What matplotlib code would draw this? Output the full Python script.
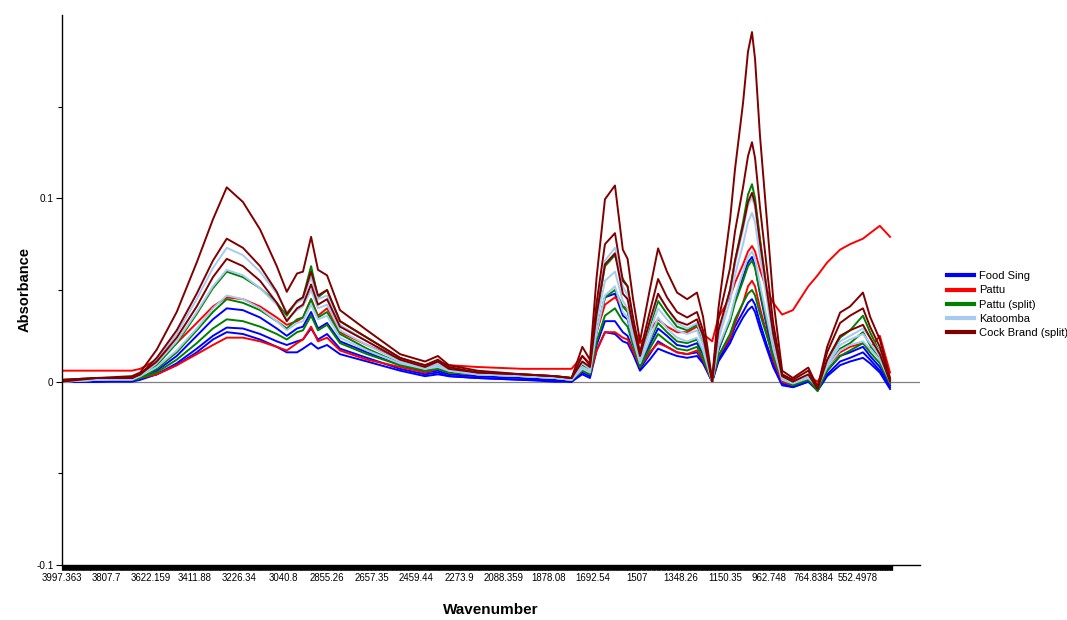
import numpy as np
import matplotlib
matplotlib.use("Agg")
import matplotlib.pyplot as plt
from matplotlib.lines import Line2D

plt.rcParams['font.family'] = ['Liberation Sans', 'DejaVu Sans']

# ---------------- data ----------------
TICK_WN = [3997.363, 3807.7, 3622.159, 3411.88, 3226.34, 3040.8, 2855.26, 2657.35,
           2459.44, 2273.9, 2088.359, 1878.08, 1692.54, 1507, 1348.26, 1150.35,
           962.748, 764.8384, 552.4978]
TICK_LABELS = ["3997.363", "3807.7", "3622.159", "3411.88", "3226.34", "3040.8",
               "2855.26", "2657.35", "2459.44", "2273.9", "2088.359", "1878.08",
               "1692.54", "1507", "1348.26", "1150.35", "962.748", "764.8384", "552.4978"]

WN = [3997, 3850, 3700, 3665, 3592, 3497, 3403, 3335, 3277, 3209, 3137,
      3067, 3025, 2982, 2957, 2923, 2894, 2856, 2798, 2677, 2529, 2420,
      2366, 2320, 2200, 2000, 1850, 1780, 1735, 1703, 1675, 1640, 1598,
      1565, 1545, 1522, 1495, 1460, 1430, 1398, 1362, 1320, 1276, 1249,
      1208, 1180, 1129, 1108, 1074, 1053, 1036, 1023, 1002, 973, 945,
      905, 857, 788, 745, 699, 637, 589, 527, 493, 446, 397]

FOOD_SING_1 = [0.000, 0.000, 0.001, 0.002, 0.006, 0.014, 0.025, 0.034, 0.040, 0.039, 0.035,
               0.029, 0.025, 0.029, 0.030, 0.038, 0.029, 0.032, 0.022, 0.016, 0.009, 0.005,
               0.006, 0.004, 0.003, 0.002, 0.001, 0.000, 0.007, 0.004, 0.027, 0.046, 0.048,
               0.036, 0.034, 0.022, 0.009, 0.020, 0.029, 0.025, 0.020, 0.019, 0.021, 0.015,
               0.000, 0.017, 0.034, 0.045, 0.057, 0.065, 0.068, 0.063, 0.048, 0.030, 0.014,
               0.000, -0.002, 0.001, -0.004, 0.006, 0.014, 0.016, 0.019, 0.014, 0.008, -0.002]
FOOD_SING_2 = [0.000, 0.000, 0.001, 0.002, 0.004, 0.010, 0.018, 0.025, 0.0295, 0.029, 0.026,
               0.022, 0.020, 0.022, 0.023, 0.029, 0.023, 0.026, 0.018, 0.013, 0.007, 0.004,
               0.005, 0.003, 0.002, 0.001, 0.001, 0.000, 0.005, 0.003, 0.020, 0.033, 0.033,
               0.027, 0.025, 0.017, 0.007, 0.015, 0.022, 0.019, 0.016, 0.015, 0.016, 0.011,
               0.000, 0.012, 0.023, 0.030, 0.038, 0.043, 0.045, 0.042, 0.032, 0.020, 0.010,
               -0.001, -0.003, 0.000, -0.004, 0.004, 0.011, 0.013, 0.016, 0.012, 0.006, -0.003]
FOOD_SING_3 = [0.000, 0.000, 0.000, 0.001, 0.004, 0.009, 0.016, 0.023, 0.027, 0.026, 0.023,
               0.019, 0.016, 0.016, 0.018, 0.021, 0.018, 0.020, 0.015, 0.011, 0.006, 0.003,
               0.004, 0.003, 0.002, 0.001, 0.000, 0.000, 0.004, 0.002, 0.017, 0.027, 0.026,
               0.022, 0.021, 0.015, 0.006, 0.012, 0.018, 0.016, 0.014, 0.013, 0.014, 0.010,
               0.000, 0.011, 0.021, 0.027, 0.035, 0.039, 0.041, 0.038, 0.029, 0.018, 0.008,
               -0.002, -0.003, 0.000, -0.005, 0.003, 0.009, 0.011, 0.013, 0.010, 0.005, -0.004]

PATTU_1 = [0.006, 0.006, 0.006, 0.007, 0.012, 0.021, 0.032, 0.041, 0.046, 0.045, 0.041,
           0.035, 0.031, 0.033, 0.035, 0.045, 0.036, 0.040, 0.027, 0.020, 0.012, 0.009,
           0.011, 0.009, 0.008, 0.007, 0.007, 0.007, 0.014, 0.010, 0.027, 0.042, 0.046,
           0.041, 0.040, 0.030, 0.021, 0.028, 0.034, 0.030, 0.027, 0.027, 0.030, 0.026,
           0.022, 0.035, 0.046, 0.054, 0.064, 0.071, 0.074, 0.071, 0.061, 0.050, 0.043,
           0.0366, 0.039, 0.052, 0.058, 0.065, 0.072, 0.075, 0.078, 0.081, 0.085, 0.079]
PATTU_2 = [0.000, 0.001, 0.001, 0.002, 0.004, 0.009, 0.015, 0.020, 0.024, 0.024, 0.022,
           0.019, 0.017, 0.021, 0.023, 0.030, 0.022, 0.024, 0.017, 0.012, 0.008, 0.005,
           0.007, 0.005, 0.004, 0.003, 0.002, 0.001, 0.006, 0.004, 0.017, 0.027, 0.027,
           0.024, 0.023, 0.017, 0.008, 0.016, 0.021, 0.019, 0.016, 0.015, 0.017, 0.012,
           0.000, 0.014, 0.024, 0.032, 0.043, 0.052, 0.055, 0.052, 0.040, 0.026, 0.012,
           0.000, -0.002, 0.003, 0.000, 0.008, 0.016, 0.019, 0.021, 0.018, 0.025, 0.005]

PATTU_SPLIT_1 = [0.000, 0.001, 0.001, 0.003, 0.009, 0.021, 0.037, 0.051, 0.060, 0.057, 0.051,
                 0.043, 0.036, 0.044, 0.046, 0.063, 0.046, 0.050, 0.033, 0.024, 0.013, 0.008,
                 0.010, 0.007, 0.005, 0.003, 0.002, 0.001, 0.009, 0.006, 0.036, 0.063, 0.069,
                 0.056, 0.052, 0.033, 0.013, 0.030, 0.044, 0.037, 0.030, 0.028, 0.031, 0.022,
                 0.000, 0.026, 0.050, 0.066, 0.087, 0.102, 0.1077, 0.100, 0.078, 0.050, 0.028,
                 0.004, 0.000, 0.003, -0.004, 0.011, 0.024, 0.028, 0.036, 0.027, 0.016, 0.001]
PATTU_SPLIT_2 = [0.000, 0.001, 0.001, 0.002, 0.007, 0.016, 0.028, 0.038, 0.045, 0.043, 0.039,
                 0.033, 0.029, 0.034, 0.035, 0.045, 0.035, 0.038, 0.026, 0.018, 0.010, 0.006,
                 0.008, 0.006, 0.004, 0.003, 0.002, 0.001, 0.007, 0.005, 0.028, 0.046, 0.050,
                 0.041, 0.038, 0.025, 0.010, 0.022, 0.032, 0.027, 0.022, 0.021, 0.023, 0.016,
                 0.000, 0.018, 0.033, 0.043, 0.055, 0.063, 0.066, 0.062, 0.049, 0.032, 0.018,
                 0.002, -0.001, 0.002, -0.005, 0.008, 0.018, 0.021, 0.027, 0.020, 0.012, 0.000]
PATTU_SPLIT_3 = [0.000, 0.001, 0.001, 0.002, 0.005, 0.012, 0.021, 0.029, 0.034, 0.033, 0.030,
                 0.026, 0.023, 0.027, 0.028, 0.036, 0.028, 0.031, 0.021, 0.015, 0.009, 0.006,
                 0.007, 0.005, 0.004, 0.003, 0.002, 0.001, 0.006, 0.004, 0.022, 0.036, 0.040,
                 0.033, 0.030, 0.020, 0.008, 0.018, 0.026, 0.022, 0.018, 0.017, 0.019, 0.013,
                 0.000, 0.014, 0.026, 0.034, 0.043, 0.048, 0.050, 0.047, 0.037, 0.025, 0.014,
                 0.001, -0.002, 0.001, -0.005, 0.006, 0.014, 0.017, 0.021, 0.016, 0.010, -0.001]

KATOOMBA_1 = [0.000, 0.001, 0.002, 0.004, 0.012, 0.026, 0.045, 0.062, 0.073, 0.069, 0.060,
              0.048, 0.038, 0.043, 0.045, 0.057, 0.045, 0.047, 0.031, 0.022, 0.012, 0.008,
              0.010, 0.007, 0.004, 0.003, 0.002, 0.001, 0.010, 0.007, 0.038, 0.066, 0.073,
              0.052, 0.047, 0.030, 0.013, 0.032, 0.047, 0.040, 0.032, 0.029, 0.032, 0.023,
              0.000, 0.026, 0.049, 0.064, 0.083, 0.096, 0.1005, 0.095, 0.075, 0.050, 0.025,
              0.002, 0.000, 0.003, -0.002, 0.010, 0.022, 0.025, 0.029, 0.024, 0.016, 0.002]
KATOOMBA_2 = [0.000, 0.001, 0.002, 0.003, 0.010, 0.022, 0.038, 0.052, 0.061, 0.058, 0.051,
              0.042, 0.034, 0.039, 0.041, 0.050, 0.040, 0.042, 0.028, 0.020, 0.011, 0.007,
              0.009, 0.006, 0.004, 0.003, 0.002, 0.001, 0.008, 0.006, 0.032, 0.055, 0.060,
              0.044, 0.040, 0.026, 0.012, 0.027, 0.040, 0.034, 0.028, 0.026, 0.028, 0.020,
              0.000, 0.023, 0.044, 0.058, 0.075, 0.087, 0.092, 0.087, 0.068, 0.045, 0.022,
              0.002, 0.000, 0.002, -0.002, 0.009, 0.020, 0.023, 0.026, 0.021, 0.014, 0.001]
KATOOMBA_3 = [0.000, 0.001, 0.001, 0.003, 0.008, 0.017, 0.029, 0.040, 0.047, 0.045, 0.040,
              0.033, 0.028, 0.032, 0.033, 0.042, 0.034, 0.036, 0.024, 0.017, 0.010, 0.007,
              0.008, 0.006, 0.004, 0.003, 0.002, 0.001, 0.007, 0.005, 0.027, 0.047, 0.052,
              0.038, 0.035, 0.023, 0.010, 0.023, 0.035, 0.029, 0.024, 0.022, 0.024, 0.017,
              0.000, 0.019, 0.035, 0.046, 0.060, 0.068, 0.071, 0.067, 0.053, 0.035, 0.018,
              0.001, -0.001, 0.002, -0.003, 0.008, 0.017, 0.020, 0.022, 0.018, 0.012, 0.000]

COCK_BRAND_1 = [0.001, 0.002, 0.003, 0.005, 0.0175, 0.038, 0.065, 0.0885, 0.106, 0.098, 0.083,
                0.063, 0.049, 0.059, 0.060, 0.079, 0.061, 0.058, 0.039, 0.028, 0.015, 0.011,
                0.014, 0.009, 0.006, 0.004, 0.003, 0.002, 0.019, 0.012, 0.057, 0.0995, 0.107,
                0.072, 0.067, 0.045, 0.022, 0.050, 0.0727, 0.060, 0.0486, 0.045, 0.0486, 0.0355,
                0.001, 0.040, 0.0885, 0.116, 0.152, 0.180, 0.1907, 0.176, 0.134, 0.0885, 0.045,
                0.006, 0.002, 0.0077, -0.003, 0.019, 0.0377, 0.041, 0.0486, 0.0355, 0.023, 0.002]
COCK_BRAND_2 = [0.001, 0.002, 0.002, 0.004, 0.013, 0.028, 0.048, 0.066, 0.078, 0.073, 0.063,
                0.049, 0.037, 0.044, 0.046, 0.060, 0.047, 0.050, 0.033, 0.024, 0.013, 0.009,
                0.012, 0.008, 0.005, 0.004, 0.003, 0.002, 0.014, 0.009, 0.043, 0.075, 0.081,
                0.055, 0.052, 0.035, 0.016, 0.038, 0.056, 0.046, 0.038, 0.035, 0.038, 0.028,
                0.001, 0.034, 0.062, 0.082, 0.106, 0.123, 0.1306, 0.122, 0.095, 0.062, 0.032,
                0.004, 0.001, 0.006, -0.003, 0.016, 0.032, 0.036, 0.040, 0.030, 0.019, 0.001]
COCK_BRAND_3 = [0.000, 0.002, 0.002, 0.004, 0.011, 0.024, 0.041, 0.057, 0.067, 0.063, 0.055,
                0.043, 0.033, 0.040, 0.042, 0.053, 0.042, 0.045, 0.030, 0.022, 0.012, 0.008,
                0.011, 0.007, 0.005, 0.004, 0.003, 0.002, 0.011, 0.008, 0.037, 0.064, 0.070,
                0.048, 0.045, 0.030, 0.014, 0.033, 0.048, 0.040, 0.033, 0.031, 0.034, 0.025,
                0.000, 0.028, 0.050, 0.066, 0.085, 0.098, 0.103, 0.097, 0.076, 0.050, 0.026,
                0.003, 0.000, 0.004, -0.004, 0.012, 0.025, 0.028, 0.031, 0.024, 0.015, 0.000]

SERIES_NAMES = ["Food Sing", "Pattu", "Pattu (split)", "Katoomba", "Cock Brand (split)"]
SERIES_COLORS = ["#0000FF", "#FF0000", "#008000", "#A6CAF0", "#800000"]
SERIES_LINES = [
    [FOOD_SING_1, FOOD_SING_2, FOOD_SING_3],
    [PATTU_1, PATTU_2],
    [PATTU_SPLIT_1, PATTU_SPLIT_2, PATTU_SPLIT_3],
    [KATOOMBA_1, KATOOMBA_2, KATOOMBA_3],
    [COCK_BRAND_1, COCK_BRAND_2, COCK_BRAND_3],
]

# ------------- axis scale: tick labels evenly spaced (variable index) -------------
tw = np.array(TICK_WN, float)
ext_wn = np.concatenate([[tw[0] + 2 * (tw[0] - tw[1])], tw, [tw[-1] - 3 * (tw[-2] - tw[-1])]])
ext_idx = np.concatenate([[-2.0], np.arange(len(tw), dtype=float), [len(tw) + 2.0]])
xp_inc = ext_wn[::-1]          # increasing wavenumbers
fp_inc = -ext_idx[::-1]        # increasing (negative index)


def fwd(w):
    w = np.asarray(w, float)
    return np.interp(w, xp_inc, fp_inc)


def inv(t):
    t = np.asarray(t, float)
    return np.interp(t, fp_inc, xp_inc)


X_RIGHT = 253.0

fig = plt.figure(figsize=(10.67, 6.2), dpi=100)
ax = fig.add_axes([62 / 1067, 55 / 620, 858 / 1067, 550 / 620])
ax.set_xscale('function', functions=(fwd, inv))

ax.axhline(0, color='#808080', lw=0.9, zorder=1)

for name, color, lines in zip(SERIES_NAMES, SERIES_COLORS, SERIES_LINES):
    for vals in lines:
        ax.plot(WN, vals, color=color, lw=1.4, zorder=2)

ax.set_xlim(tw[0], X_RIGHT)
ax.set_ylim(-0.1, 0.2)

ax.set_xticks(TICK_WN, labels=TICK_LABELS)
ax.set_xticks(np.arange(tw[0], WN[-1] - 12, -2.0), minor=True)
ax.set_yticks([-0.1, 0, 0.1], labels=["-0.1", "0", "0.1"])
ax.set_yticks([-0.05, 0.05, 0.15], minor=True)

ax.tick_params(axis='x', which='major', length=3.5, width=0.8, labelsize=6.9, pad=2)
ax.tick_params(axis='x', which='minor', length=3.5, width=0.8)
ax.tick_params(axis='y', which='major', length=4, width=0.8, labelsize=7.2, pad=2)
ax.tick_params(axis='y', which='minor', length=3, width=0.8)

for s in ['top', 'right']:
    ax.spines[s].set_visible(False)
ax.spines['left'].set_linewidth(1.0)
ax.spines['bottom'].set_linewidth(1.0)

ax.set_xlabel("Wavenumber", fontsize=11, fontweight='bold', labelpad=15)
ax.set_ylabel("Absorbance", fontsize=10.5, fontweight='bold', labelpad=3)

handles = [Line2D([], [], color=c, lw=3) for c in SERIES_COLORS]
fig.legend(handles, SERIES_NAMES, loc='upper left', bbox_to_anchor=(945 / 1067, 1 - 269 / 620),
           frameon=False, fontsize=8, handlelength=2.4, handletextpad=0.45,
           labelspacing=0.38, borderaxespad=0, borderpad=0.2)

fig.savefig("out.png", dpi=100)
